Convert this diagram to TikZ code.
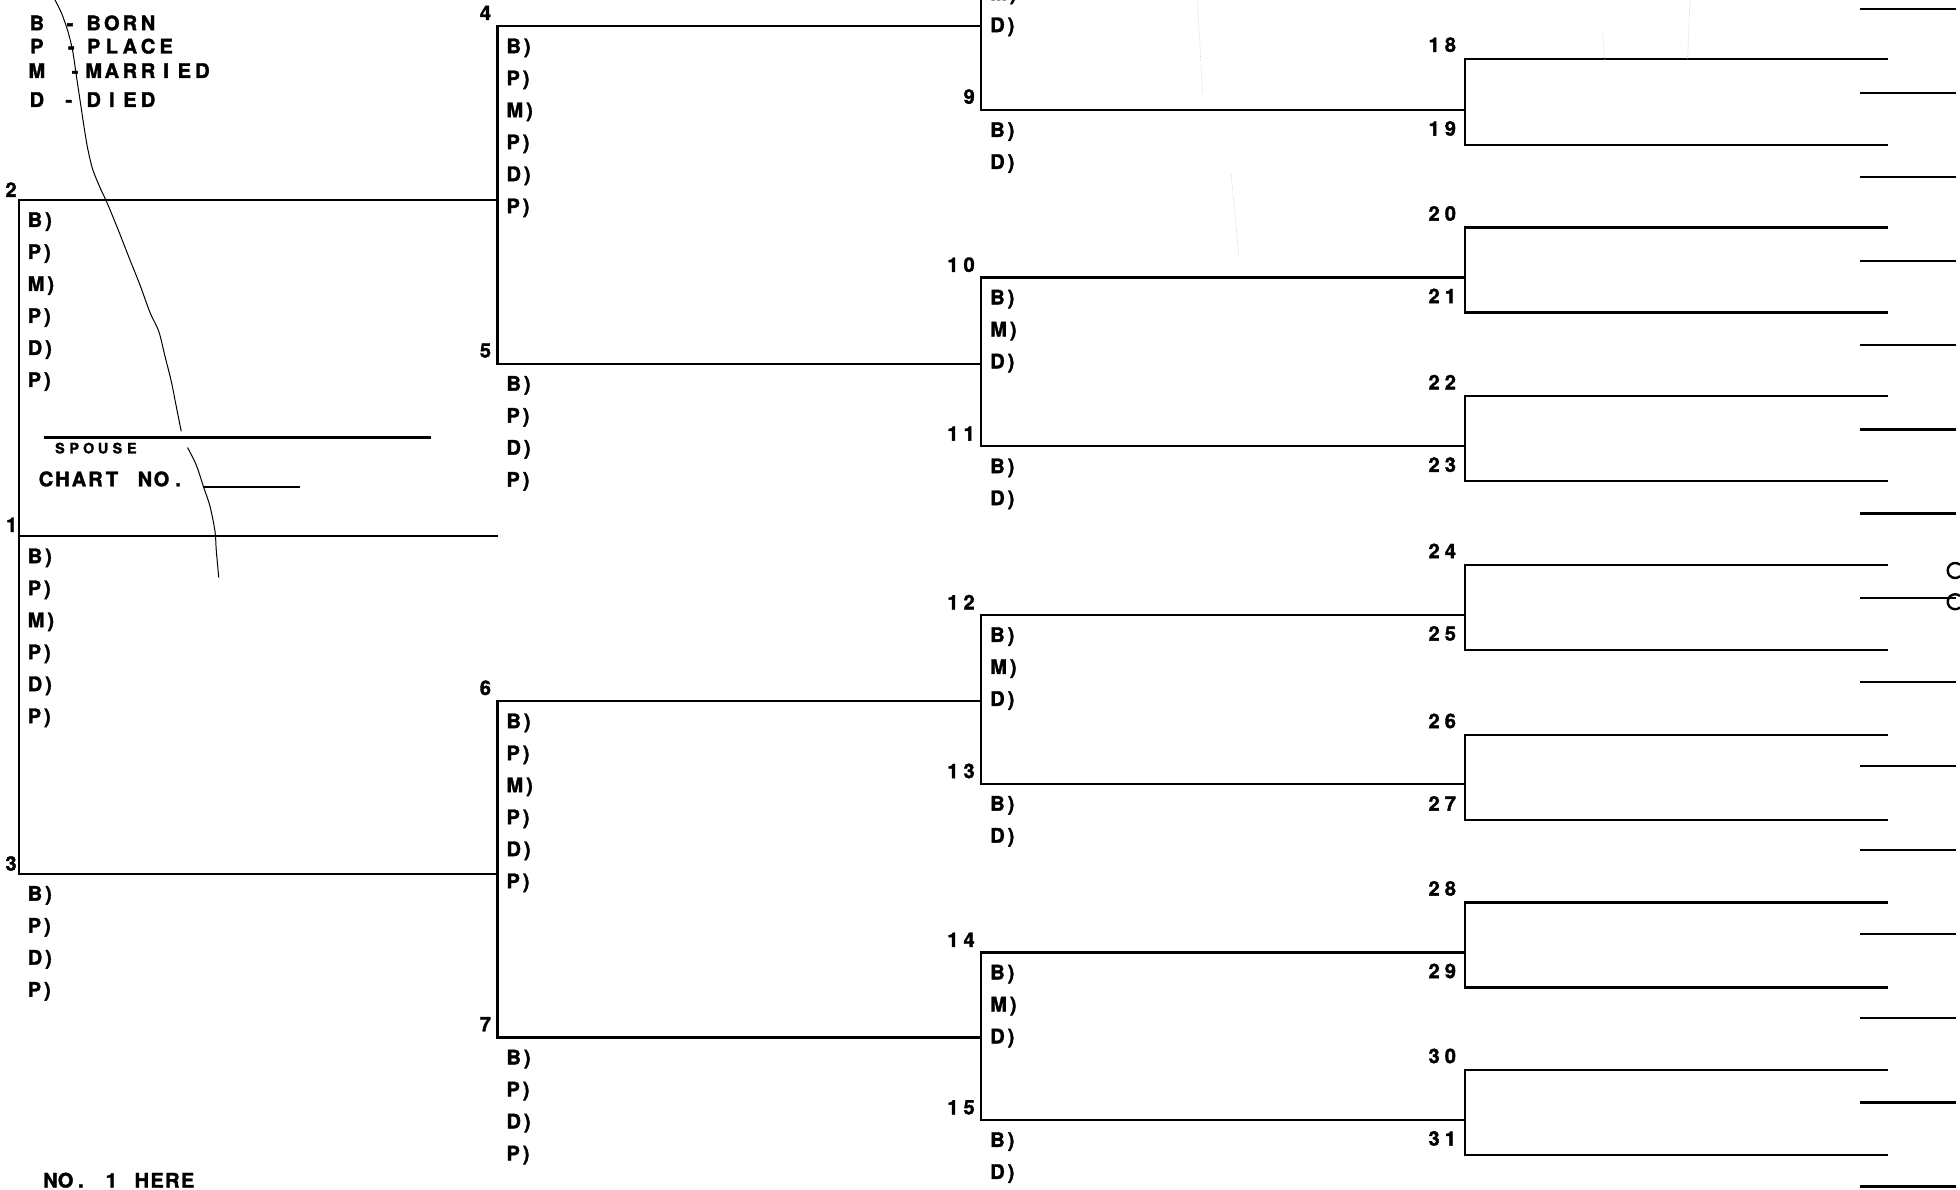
\documentclass[tikz,border=0pt]{standalone}
\usepackage{fontspec}
\setmainfont{TeX Gyre Heros}
\newfontfamily\hvb{TeX Gyre Heros}[FakeBold=1.7]
\newfontfamily\hvl{TeX Gyre Heros}[FakeBold=1.7,LetterSpace=15]
\newlength\fpw
\def\fpstop{\fpstop}
\newcommand\fp[2]{\setlength\fpw{#1}\fpA#2\fpstop}
\newcommand\fpn[2]{\setlength\fpw{#1}\edef\fptmp{#2}\expandafter\fpA\fptmp\fpstop}
\def\fpA#1{\ifx#1\fpstop\else\makebox[\fpw][c]{#1}\expandafter\fpA\fi}
\newcommand\personrows[4]{\foreach \rowtxt [count=\i from 0] in {#4}{\node[row] (#1r\i) at (#2+7,#3+21.5+25.6*\i) {\rowtxt};}}
\begin{document}
\begin{tikzpicture}[x=1pt,y=-1pt,
  ln/.style={line width=1.8pt,line join=miter},
  row/.style={anchor=base west,inner sep=0pt,font=\fontsize{16}{16}\selectfont\hvl\bfseries},
  num/.style={anchor=base east,inner sep=0pt,font=\fontsize{16}{16}\selectfont\hvb\bfseries},
  leg/.style={anchor=base west,inner sep=0pt,font=\fontsize{16}{16}\selectfont\hvb\bfseries},
  crack/.style={line width=0.8pt},
  faint/.style={line width=0.5pt,gray!45,densely dotted}]
\useasboundingbox (0,0) rectangle (1568,952);
\fill[white] (0,0) rectangle (1568,952);
\clip (0,0) rectangle (1568,952);

% ---- person lines (start/end coordinates)
\foreach \n/\xa/\xb/\y in {1/15/398/429, 2/15/398/160, 3/15/398/699,
  4/398/785/21, 5/398/785/291, 6/398/785/561, 7/398/785/830,
  8/785/1172/-47, 9/785/1172/88, 10/785/1172/222, 11/785/1172/357,
  12/785/1172/492, 13/785/1172/627, 14/785/1172/762, 15/785/1172/896,
  16/1172/1510/-88, 17/1172/1510/-19, 18/1172/1510/47, 19/1172/1510/116,
  20/1172/1510/182, 21/1172/1510/250, 22/1172/1510/317, 23/1172/1510/385,
  24/1172/1510/452, 25/1172/1510/520, 26/1172/1510/588, 27/1172/1510/656,
  28/1172/1510/722, 29/1172/1510/790, 30/1172/1510/856, 31/1172/1510/924}
  {\coordinate (s\n) at (\xa,\y); \coordinate (e\n) at (\xb,\y);}

\draw[ln] (s1) -- (e1);
\foreach \a/\b in {2/3,4/5,6/7,8/9,10/11,12/13,14/15,16/17,18/19,20/21,22/23,24/25,26/27,28/29,30/31}
  {\draw[ln] (e\a) -- (s\a) -- (s\b) -- (e\b);}

% ---- short stubs at the right edge
\foreach \i in {0,...,14}{
  \coordinate (ta\i) at (1488,7+67.3*\i);
  \coordinate (tb\i) at (1565,7+67.3*\i);
  \draw[ln] (ta\i) -- (tb\i);}
\draw[line width=1.9pt] (1568,461) arc[start angle=50,end angle=310,radius=6];
\draw[line width=1.9pt] (1568,486) arc[start angle=50,end angle=310,radius=6];

% ---- entry rows
\personrows{p1}{15}{429}{B),P),M),P),D),P)}
\personrows{p2}{15}{160}{B),P),M),P),D),P)}
\personrows{p3}{15}{699}{B),P),D),P)}
\personrows{p4}{398}{21}{B),P),M),P),D),P)}
\personrows{p5}{398}{291}{B),P),D),P)}
\personrows{p6}{398}{561}{B),P),M),P),D),P)}
\personrows{p7}{398}{830}{B),P),D),P)}
\personrows{p8}{785}{-47}{B),M),D)}
\personrows{p9}{785}{88}{B),D)}
\personrows{p10}{785}{222}{B),M),D)}
\personrows{p11}{785}{357}{B),D)}
\personrows{p12}{785}{492}{B),M),D)}
\personrows{p13}{785}{627}{B),D)}
\personrows{p14}{785}{762}{B),M),D)}
\personrows{p15}{785}{896}{B),D)}

% ---- numbers
\node[num] (n1) at (14,425.5) {1};
\node[num] (n2) at (13.5,157.5) {2};
\node[num] (n3) at (13.5,696.5) {3};
\node[num] (n4) at (393,16) {4};
\node[num] (n5) at (393,286) {5};
\node[num] (n6) at (393,556) {6};
\node[num] (n7) at (393,825) {7};
\node[num] (n9) at (780,83) {9};
\foreach \n/\y in {10/222,11/357,12/492,13/627,14/762,15/896}
  {\node[num] (n\n) at (782,\y-4.5) {\fpn{13pt}{\n}};}
\foreach \n/\y in {18/47,20/182,22/317,24/452,26/588,28/722,30/856}
  {\node[num] (n\n) at (1167,\y-5.5) {\fpn{13pt}{\n}};}
\foreach \n/\y in {19/116,21/250,23/385,25/520,27/656,29/790,31/924}
  {\node[num] (n\n) at (1167,\y-7.5) {\fpn{13pt}{\n}};}

% ---- legend
\node[leg,anchor=base] (lgB) at (29.5,24.2) {B};
\node[leg,anchor=base] (lgP) at (29.5,42.8) {P};
\node[leg,anchor=base] (lgM) at (29.5,62.3) {M};
\node[leg,anchor=base] (lgD) at (29.5,85.5) {D};
\node[leg,anchor=base] (ldB) at (56,24.2) {-};
\node[leg,anchor=base] (ldP) at (57,42.8) {-};
\node[leg,anchor=base] (ldM) at (60,62.3) {-};
\node[leg,anchor=base] (ldD) at (55,85.5) {-};
\node[leg] (lwB) at (67.5,24.2) {\fp{14.5pt}{BORN}};
\node[leg] (lwP) at (67.5,42.8) {\fp{14.5pt}{PLACE}};
\node[leg] (lwM) at (67.5,62.3) {\fp{14.5pt}{MARRIED}};
\node[leg] (lwD) at (67.5,85.5) {\fp{14.5pt}{DIED}};

% ---- spouse / chart number
\coordinate (spa) at (35,350); \coordinate (spb) at (345,350);
\draw[ln] (spa) -- (spb);
\node[leg,font=\fontsize{11.5}{11.5}\selectfont\hvb\bfseries] (sp) at (42,362.7) {\fp{11.5pt}{SPOUSE}};
\node[leg] (cn) at (30,389) {\fp{13.2pt}{CHART~NO.}};
\coordinate (cna) at (163,389.5); \coordinate (cnb) at (240,389.5);
\draw[ln] (cna) -- (cnb);
\node[leg] (nh) at (34,950) {\fp{12.2pt}{NO.~1~HERE}};

% ---- paper crack
\draw[crack] plot[smooth] coordinates {(44,0) (49,10) (54,24) (58,40) (61,60) (64,80) (67,100) (70,118) (74,135) (80,150) (86,163) (95,185) (104,208) (112,228) (120,250) (127,265) (132,285) (137,305) (141,325) (145,345)};
\draw[crack] plot[smooth] coordinates {(150,358) (157,372) (163,390) (168,405) (172,425) (173,440) (175,462)};
\draw[faint] (958,0) -- (962,75);
\draw[faint] (985,140) -- (991,205);
\draw[faint] (1282,28) -- (1284,50);
\draw[faint] (1352,0) -- (1350,48);
\end{tikzpicture}
\end{document}
